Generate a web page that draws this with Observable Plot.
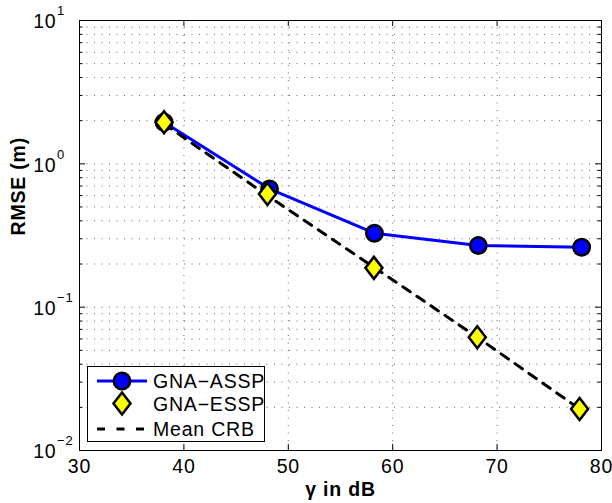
<!DOCTYPE html>
<html><head><meta charset="utf-8">
<script src="https://cdn.jsdelivr.net/npm/d3@7"></script>
<script src="https://cdn.jsdelivr.net/npm/@observablehq/plot@0.6"></script>
<style>html,body{margin:0;padding:0;background:#fff;}</style>
</head><body><div id="chart"></div>
<script>
// ---- data ----
const gammaAssp = [38.1, 48.2, 58.25, 68.2, 78.1];
const rmseAssp  = [1.95, 0.669, 0.328, 0.269, 0.262];
const gammaEssp = [38.1, 48.0, 58.2, 68.1, 77.9];
const rmseEssp  = [1.95, 0.617, 0.188, 0.0617, 0.0195];
const gammaCrb  = [38.1, 48.0, 58.2, 68.1, 77.9];
const rmseCrb   = [1.9, 0.6, 0.19, 0.0617, 0.0195];
const seriesNames = ["GNA\u2212ASSP", "GNA\u2212ESSP", "Mean CRB"];
const xTicks = [30, 40, 50, 60, 70, 80];
const yMajor = [0.01, 0.1, 1, 10];
const yExponents = ["\u22122", "\u22121", "0", "1"];
const xLabel = "\u03b3 in dB";
const yLabel = "RMSE (m)";

// ---- derived tables ----
const assp = gammaAssp.map((g, i) => ({g, v: rmseAssp[i]}));
const essp = gammaEssp.map((g, i) => ({g, v: rmseEssp[i]}));
const crb  = gammaCrb.map((g, i) => ({g, v: rmseCrb[i]}));
const yMinor = [];
for (const d of [0.01, 0.1, 1]) for (let k = 2; k <= 9; k++) yMinor.push(+(d * k).toPrecision(3));
const yGrid = yMinor.concat(yMajor.slice(1, -1));

const W = 612, H = 503, mL = 79, mR = 11, mT = 20, mB = 53;
const innerW = W - mL - mR, innerH = H - mT - mB;
const FONT = "'Liberation Sans', Arial, Helvetica, sans-serif";
const FS = 19.5;
const gridStyle = {stroke: "#000", strokeOpacity: 0.6, strokeWidth: 1, strokeDasharray: "1,6.5"};
const diamond = {draw(ctx) { ctx.moveTo(0, -11); ctx.lineTo(8.5, 0); ctx.lineTo(0, 11); ctx.lineTo(-8.5, 0); ctx.closePath(); }};

const chart = Plot.plot({
  width: W, height: H,
  marginLeft: mL, marginRight: mR, marginTop: mT, marginBottom: mB,
  style: {fontFamily: FONT, fontSize: FS + "px", letterSpacing: "0.8px", background: "white", color: "black", overflow: "visible"},
  x: {domain: [30, 80], axis: null},
  y: {type: "log", domain: [0.01, 10], axis: null},
  marks: [
    Plot.ruleX(xTicks.slice(1, -1), {x: d => d, ...gridStyle}),
    Plot.ruleY(yGrid, {y: d => d, ...gridStyle}),
    Plot.tickX(xTicks, {x: d => d, stroke: "black", insetTop: innerH - 6}),
    Plot.tickX(xTicks, {x: d => d, stroke: "black", insetBottom: innerH - 6}),
    Plot.tickY(yMajor, {y: d => d, stroke: "black", insetRight: innerW - 6}),
    Plot.tickY(yMajor, {y: d => d, stroke: "black", insetLeft: innerW - 6}),
    Plot.tickY(yMinor, {y: d => d, stroke: "black", insetRight: innerW - 3.5}),
    Plot.tickY(yMinor, {y: d => d, stroke: "black", insetLeft: innerW - 3.5}),
    Plot.frame({stroke: "black", strokeWidth: 1}),
    Plot.line(assp, {x: "g", y: "v", stroke: "#0000ff", strokeWidth: 3}),
    Plot.dot(assp, {x: "g", y: "v", r: 8.2, fill: "#0000ff", stroke: "black", strokeWidth: 2.5}),
    Plot.line(crb, {x: "g", y: "v", stroke: "black", strokeWidth: 3, strokeDasharray: "9,8"}),
    Plot.dot(essp, {x: "g", y: "v", symbol: diamond, fill: "#ffff00", stroke: "black", strokeWidth: 2.5, strokeLinejoin: "miter"}),
    Plot.text(xTicks, {x: d => d, frameAnchor: "bottom", dy: 9, lineAnchor: "top", text: d => String(d), fontSize: FS}),
    Plot.text(yMajor, {y: d => d, frameAnchor: "left", dx: -23, dy: 1.5, textAnchor: "end", text: () => "10", fontSize: FS}),
    Plot.text(yMajor, {y: d => d, frameAnchor: "left", dx: -22.5, dy: -9.5, textAnchor: "start", text: (d, i) => yExponents[i], fontSize: 13}),
    Plot.text([yLabel], {frameAnchor: "left", dx: -55, rotate: -90, lineAnchor: "bottom", text: d => d, fontWeight: "bold", fontSize: FS}),
    Plot.text([xLabel], {frameAnchor: "bottom", dy: 45, lineAnchor: "bottom", text: d => d, fontWeight: "bold", fontSize: FS})
  ]
});
document.getElementById("chart").appendChild(chart);

// ---- legend ----
const svg = d3.select(chart);
const lg = svg.append("g").attr("font-family", FONT).attr("font-size", FS).attr("text-anchor", "start");
lg.append("rect").attr("x", 87.5).attr("y", 366.5).attr("width", 177).attr("height", 75)
  .attr("fill", "white").attr("stroke", "black").attr("stroke-width", 1);
const rows = [381, 403.5, 429];
const sx = 122;
lg.append("line").attr("x1", 97).attr("x2", 147).attr("y1", rows[0]).attr("y2", rows[0])
  .attr("stroke", "#0000ff").attr("stroke-width", 3);
lg.append("circle").attr("cx", sx).attr("cy", rows[0]).attr("r", 8.2)
  .attr("fill", "#0000ff").attr("stroke", "black").attr("stroke-width", 2.5);
lg.append("path").attr("d", `M${sx},${rows[1]-11}L${sx+8.5},${rows[1]}L${sx},${rows[1]+11}L${sx-8.5},${rows[1]}Z`)
  .attr("fill", "#ffff00").attr("stroke", "black").attr("stroke-width", 2.5);
lg.append("line").attr("x1", 97).attr("x2", 147).attr("y1", rows[2]).attr("y2", rows[2])
  .attr("stroke", "black").attr("stroke-width", 3).attr("stroke-dasharray", "8,11.5");
seriesNames.forEach((n, i) => {
  lg.append("text").attr("x", 153).attr("y", rows[i] + 7).text(n);
});
</script>
</body></html>
